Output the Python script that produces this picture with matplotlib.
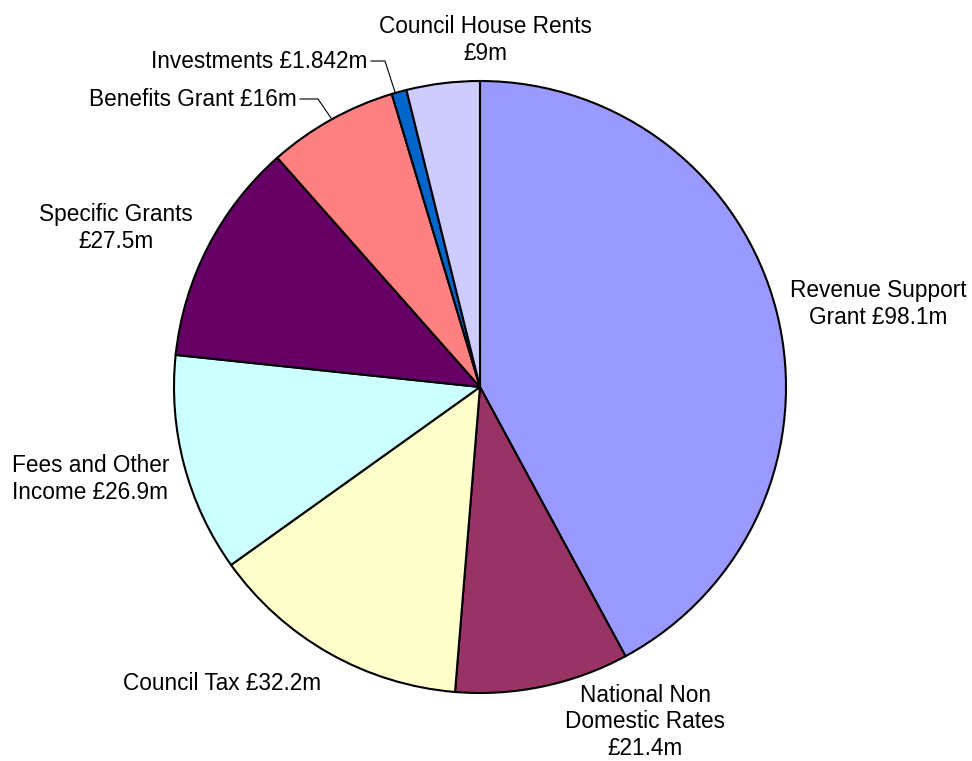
import matplotlib
matplotlib.use("Agg")
import matplotlib.pyplot as plt

# Income sources (£m)
categories = [
    "Revenue Support Grant", "National Non Domestic Rates", "Council Tax",
    "Fees and Other Income", "Specific Grants", "Benefits Grant",
    "Investments", "Council House Rents",
]
values = [98.1, 21.4, 32.2, 26.9, 27.5, 16, 1.842, 9]
labels = [
    "Revenue Support\nGrant £98.1m",
    "National Non\nDomestic Rates\n£21.4m",
    "Council Tax £32.2m",
    "Fees and Other\nIncome £26.9m",
    "Specific Grants\n£27.5m",
    "Benefits Grant £16m",
    "Investments £1.842m",
    "Council House Rents\n£9m",
]
colors = ["#9999FF", "#993366", "#FFFFCC", "#CCFFFF",
          "#660066", "#FF8080", "#0066CC", "#CCCCFF"]

W, H = 972, 761
fig = plt.figure(figsize=(W / 100, H / 100), dpi=100)
ax = fig.add_axes([0, 0, 1, 1])

cx, cy, r = 480, 387, 306
ax.pie(values, colors=colors, startangle=90, counterclock=False,
       center=(cx, H - cy), radius=r,
       wedgeprops=dict(edgecolor="black", linewidth=1.5))
ax.set_xlim(0, W)
ax.set_ylim(0, H)
ax.set_aspect("equal")
ax.axis("off")

font = dict(family=["Liberation Sans", "DejaVu Sans"], fontsize=16.3,
            color="black", linespacing=1.2)

# label anchor positions (pixel coordinates from the top-left), alignment
placements = [
    (878, 304, "center", "center"),
    (645, 722, "center", "center"),
    (222, 683, "center", "center"),
    (12, 479, "left", "center"),
    (116, 228, "center", "center"),
    (297, 99, "right", "center"),
    (367, 61, "right", "center"),
    (485, 40, "center", "center"),
]
for text, (x, y, ha, va) in zip(labels, placements):
    ax.text(x, H - y, text, ha=ha, va=va, **font)

# leader lines for the two small slices
leaders = [
    [(300, 99), (318, 99), (331, 118)],
    [(371, 61), (385, 61), (395, 92)],
]
for pts in leaders:
    xs = [p[0] for p in pts]
    ys = [H - p[1] for p in pts]
    ax.plot(xs, ys, color="black", linewidth=0.8)

fig.savefig("out.png", dpi=100, facecolor="white")
